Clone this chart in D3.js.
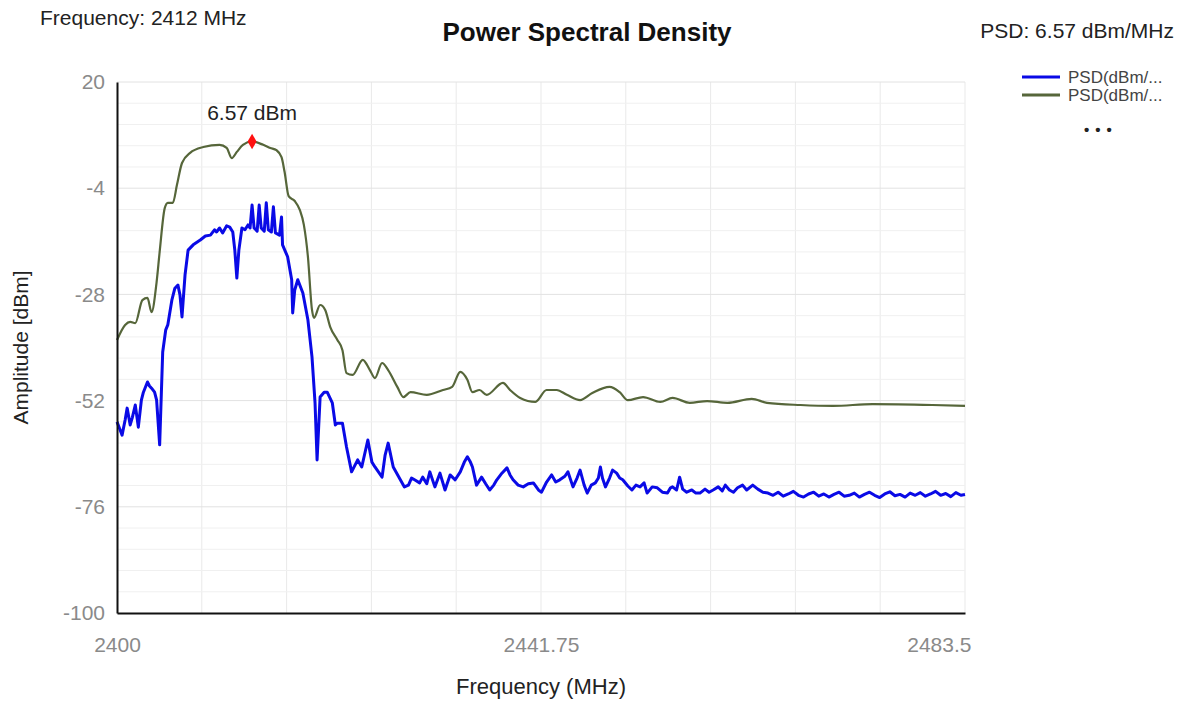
<!DOCTYPE html>
<html>
<head>
<meta charset="utf-8">
<script src="https://cdn.jsdelivr.net/npm/d3@7/dist/d3.min.js"></script>
<style>
  body { margin: 0; background: #fff; }
  svg { display: block; font-family: "Liberation Sans", Arial, sans-serif; }
</style>
</head>
<body>
<svg id="chart" width="1188" height="701"></svg>
<script>
// Power spectral density trace, two PSD series.

const xTicks = [2400, 2441.75, 2483.5];
const yTicks = [20, -4, -28, -52, -76, -100];
const seriesNames = ["PSD(dBm/...", "PSD(dBm/..."];
const seriesColors = ["#0a0ae6", "#56663a"];

// series 1 (blue, noisy)
const blueFreq = [
  2400.0, 2400.3, 2400.5, 2400.8, 2401.0, 2401.3, 2401.5, 2401.8, 2402.1, 2402.4,
  2402.6, 2403.0, 2403.2, 2403.4, 2403.7, 2403.9, 2404.2, 2404.5, 2404.8, 2405.0,
  2405.4, 2405.7, 2406.0, 2406.2, 2406.4, 2406.7, 2407.0, 2407.5, 2408.2, 2408.7,
  2409.2, 2409.6, 2409.8, 2410.1, 2410.4, 2410.8, 2411.1, 2411.4, 2411.6, 2411.8,
  2412.0, 2412.3, 2412.6, 2412.9, 2413.1, 2413.3, 2413.5, 2413.8, 2414.0, 2414.2,
  2414.5, 2414.7, 2414.9, 2415.2, 2415.4, 2415.6, 2416.0, 2416.2, 2416.3, 2416.8,
  2417.2, 2417.3, 2417.5, 2417.8, 2418.3, 2418.8, 2419.2, 2419.5, 2419.7, 2420.0,
  2420.4, 2420.7, 2421.2, 2421.5, 2421.7, 2422.2, 2422.6, 2423.1, 2423.7, 2424.1,
  2424.7, 2425.1, 2425.4, 2426.1, 2426.4, 2426.7, 2427.2, 2427.9, 2428.3, 2428.7,
  2429.0, 2429.3, 2429.8, 2430.1, 2430.5, 2430.8, 2431.3, 2431.8, 2432.3, 2432.8,
  2433.3, 2433.8, 2434.2, 2434.5, 2434.8, 2435.0, 2435.4, 2435.9, 2436.3, 2436.7,
  2437.1, 2437.4, 2437.9, 2438.4, 2438.7, 2439.0, 2439.5, 2440.0, 2440.5, 2441.0,
  2441.5, 2441.8, 2442.3, 2442.8, 2443.2, 2443.6, 2444.1, 2444.4, 2444.9, 2445.3,
  2445.6, 2446.0, 2446.3, 2446.7, 2447.1, 2447.4, 2447.6, 2447.8, 2448.1, 2448.5,
  2448.8, 2449.2, 2449.5, 2449.8, 2450.3, 2450.7, 2451.1, 2451.5, 2451.9, 2452.2,
  2452.7, 2453.2, 2453.7, 2454.2, 2454.5, 2454.7, 2455.1, 2455.4, 2455.7, 2456.1,
  2456.6, 2457.0, 2457.4, 2457.9, 2458.3, 2458.7, 2459.2, 2459.6, 2459.9, 2460.3,
  2460.7, 2461.1, 2461.6, 2462.0, 2462.6, 2463.1, 2463.6, 2464.1, 2464.6, 2465.1,
  2465.6, 2466.1, 2466.6, 2467.1, 2467.6, 2468.1, 2468.6, 2469.1, 2469.6, 2470.1,
  2470.6, 2471.1, 2471.6, 2472.1, 2472.6, 2473.1, 2473.6, 2474.1, 2474.6, 2475.1,
  2475.6, 2476.1, 2476.6, 2477.1, 2477.6, 2478.1, 2478.6, 2479.1, 2479.6, 2480.1,
  2480.6, 2481.1, 2481.6, 2482.1, 2482.6, 2483.1, 2483.5
];
const bluePsd = [
  -56.8, -58.6, -59.8, -56.4, -53.7, -57.5, -55.9, -53.0, -58.0, -51.9,
  -50.1, -47.8, -48.7, -49.2, -50.1, -51.9, -62.0, -41.0, -36.0, -34.9,
  -29.3, -26.6, -25.9, -28.1, -33.1, -23.6, -18.0, -16.8, -15.7, -14.8,
  -14.6, -13.4, -13.9, -13.0, -14.1, -12.5, -12.8, -13.9, -18.0, -24.3,
  -18.0, -13.0, -13.4, -12.3, -13.0, -7.8, -13.0, -13.7, -7.8, -13.0,
  -13.7, -7.3, -13.4, -13.9, -8.2, -14.1, -14.6, -10.5, -16.8, -19.5,
  -24.7, -32.2, -27.0, -24.7, -27.7, -33.8, -42.1, -52.5, -65.4, -51.2,
  -50.1, -50.1, -52.5, -57.5, -57.1, -57.1, -62.5, -68.1, -65.4, -67.0,
  -60.9, -65.9, -67.0, -69.3, -64.3, -61.6, -67.0, -69.9, -71.5, -71.1,
  -69.5, -69.9, -70.6, -69.3, -70.8, -68.1, -71.5, -68.4, -72.2, -68.8,
  -69.9, -68.1, -65.9, -64.7, -65.9, -67.0, -71.1, -69.3, -70.8, -72.2,
  -71.1, -69.9, -68.4, -67.2, -68.8, -69.9, -71.1, -71.5, -70.8, -70.6,
  -72.2, -72.7, -70.4, -68.8, -70.4, -69.9, -69.1, -68.1, -71.5, -69.5,
  -67.7, -71.1, -72.9, -71.1, -70.6, -69.5, -67.0, -69.5, -71.5, -69.5,
  -67.7, -68.4, -69.5, -69.9, -71.3, -72.2, -71.1, -71.5, -70.6, -72.9,
  -71.5, -71.7, -72.7, -72.9, -71.7, -71.5, -72.2, -69.3, -72.0, -72.7,
  -72.2, -72.9, -72.9, -72.0, -72.7, -72.2, -71.5, -72.4, -71.1, -72.2,
  -72.7, -71.7, -71.1, -72.2, -71.1, -72.0, -72.7, -72.9, -73.4, -72.7,
  -73.6, -73.1, -72.5, -73.4, -73.8, -73.1, -72.7, -73.6, -73.1, -73.8,
  -73.2, -72.7, -73.6, -73.4, -72.9, -73.8, -73.2, -72.7, -73.4, -73.9,
  -73.1, -72.6, -73.5, -73.2, -73.8, -72.9, -73.4, -72.8, -73.6, -73.1,
  -72.5, -73.4, -73.0, -73.7, -72.8, -73.4, -73.2
];

// series 2 (olive, smooth)
const greenFreq = [
  2400.0, 2400.8, 2401.3, 2401.8, 2402.5, 2403.0, 2403.4, 2403.9, 2404.2, 2404.7,
  2405.0, 2405.5, 2405.9, 2406.4, 2407.2, 2408.5, 2410.1, 2410.8, 2411.3, 2411.8,
  2412.4, 2413.3, 2414.4, 2415.1, 2415.7, 2416.2, 2416.5, 2416.9, 2417.5, 2418.0,
  2418.4, 2418.8, 2419.2, 2419.4, 2420.0, 2420.5, 2421.0, 2421.7, 2422.2, 2422.6,
  2423.2, 2424.2, 2424.9, 2425.4, 2426.1, 2426.7, 2427.6, 2428.2, 2428.9, 2430.5,
  2432.1, 2433.0, 2433.8, 2434.5, 2435.0, 2435.7, 2436.4, 2438.0, 2438.7, 2439.7,
  2441.2, 2442.3, 2443.3, 2444.3, 2445.6, 2446.8, 2448.5, 2449.5, 2450.3, 2451.8,
  2453.5, 2454.7, 2456.4, 2458.1, 2460.1, 2462.5, 2464.0, 2467.3, 2470.5, 2474.4,
  2480.3, 2483.5
];
const greenPsd = [
  -38.3, -34.9, -34.2, -34.5, -29.3, -28.8, -32.0, -25.2, -18.4, -8.5,
  -7.3, -7.3, -3.3, 1.7, 4.0, 5.3, 5.8, 5.1, 2.8, 4.2,
  5.8, 6.57, 5.8, 5.1, 4.6, 3.0, -0.3, -5.8, -6.9, -8.9,
  -12.3, -19.5, -31.5, -33.3, -30.4, -31.5, -35.4, -38.3, -40.6, -45.8,
  -46.2, -42.8, -45.1, -46.9, -43.5, -45.1, -48.9, -51.2, -50.1, -50.7,
  -49.6, -48.9, -45.5, -47.3, -50.1, -49.6, -50.7, -48.0, -49.6, -51.4,
  -52.3, -49.6, -49.6, -50.7, -51.9, -50.3, -48.9, -50.1, -51.9, -51.2,
  -52.3, -51.4, -52.5, -52.1, -52.5, -51.6, -52.5, -53.0, -53.2, -52.8,
  -53.0, -53.2
];

// peak marker read from the header readout
const peakFreq = 2413.3;
const peakPsd = 6.57;

const svg = d3.select("#chart");
const m = { left: 117, right: 965, top: 82, bottom: 613 };

const x = d3.scaleLinear().domain([2400, 2483.5]).range([m.left, m.right]);
const y = d3.scaleLinear().domain([-100, 20]).range([m.bottom, m.top]);

// grid: 10 columns, 25 rows (minor lines every 4.8 dB)
const gGrid = svg.append("g").attr("class", "grid");
gGrid.selectAll("line.v")
  .data(d3.range(1, 11).map((i) => 2400 + i * (83.5 / 10)))
  .enter().append("line")
  .attr("x1", (d) => x(d)).attr("x2", (d) => x(d))
  .attr("y1", m.top).attr("y2", m.bottom)
  .attr("stroke", "#e9e9e9").attr("stroke-width", 1);
gGrid.selectAll("line.h")
  .data(d3.range(1, 26).map((i) => -100 + i * 4.8))
  .enter().append("line")
  .attr("x1", m.left).attr("x2", m.right)
  .attr("y1", (d) => y(d)).attr("y2", (d) => y(d))
  .attr("stroke", (d, i) => ((i + 1) % 5 === 0 ? "#e2e2e2" : "#f0f0f0"))
  .attr("stroke-width", 1);

// traces
const blue = d3.zip(blueFreq, bluePsd);
const green = d3.zip(greenFreq, greenPsd);

svg.append("path").datum(blue)
  .attr("d", d3.line().x((d) => x(d[0])).y((d) => y(d[1])))
  .attr("fill", "none")
  .attr("stroke", seriesColors[0]).attr("stroke-width", 3)
  .attr("stroke-linejoin", "round");
svg.append("path").datum(green)
  .attr("d", d3.line().curve(d3.curveMonotoneX).x((d) => x(d[0])).y((d) => y(d[1])))
  .attr("fill", "none")
  .attr("stroke", seriesColors[1]).attr("stroke-width", 2.2)
  .attr("stroke-linejoin", "round");

// axes
const axL = svg.append("g").attr("transform", `translate(${m.left},0)`)
  .call(d3.axisLeft(y).tickValues(yTicks).tickSize(0).tickPadding(12)
    .tickFormat((d) => String(d)));
const axB = svg.append("g").attr("transform", `translate(0,${m.bottom})`)
  .call(d3.axisBottom(x).tickValues(xTicks).tickSize(0).tickPadding(24)
    .tickFormat((d) => String(d)));
[axL, axB].forEach((g) => {
  g.select(".domain").attr("stroke", "#111").attr("stroke-width", 2);
  g.selectAll("text")
    .attr("fill", "#8a8a8a")
    .attr("font-size", 21)
    .attr("font-family", "Liberation Sans, Arial, sans-serif");
});
// last x label sits inside the plot edge, as in the capture
axB.selectAll(".tick text").filter((d) => d === 2483.5)
  .attr("text-anchor", "end").attr("dx", 6);

// peak marker
svg.append("path")
  .attr("d", d3.symbol(d3.symbolDiamond, 70)())
  .attr("transform", `translate(${x(peakFreq)},${y(peakPsd)})`)
  .attr("fill", "#ff1010");
svg.append("text")
  .attr("x", x(peakFreq)).attr("y", y(peakPsd) - 21)
  .attr("text-anchor", "middle").attr("font-size", 21).attr("fill", "#222")
  .text(`${peakPsd} dBm`);

// titles and readouts
svg.append("text").attr("x", 587).attr("y", 41)
  .attr("text-anchor", "middle").attr("font-size", 26).attr("font-weight", "bold")
  .attr("fill", "#111").text("Power Spectral Density");
svg.append("text").attr("x", 40).attr("y", 25)
  .attr("font-size", 21).attr("fill", "#222").text(`Frequency: 2412 MHz`);
svg.append("text").attr("x", 1174).attr("y", 38)
  .attr("text-anchor", "end").attr("font-size", 21).attr("fill", "#222")
  .text(`PSD: ${peakPsd} dBm/MHz`);

svg.append("text").attr("x", x(2441.75)).attr("y", 694)
  .attr("text-anchor", "middle").attr("font-size", 22).attr("fill", "#222")
  .text("Frequency (MHz)");
svg.append("text")
  .attr("transform", `translate(28,${(m.top + m.bottom) / 2}) rotate(-90)`)
  .attr("text-anchor", "middle").attr("font-size", 21).attr("fill", "#222")
  .text("Amplitude [dBm]");

// legend
const leg = svg.append("g").attr("transform", "translate(1022,77)");
seriesNames.forEach((name, i) => {
  const r = leg.append("g").attr("transform", `translate(0,${i * 18})`);
  r.append("line").attr("x1", 0).attr("x2", 38).attr("y1", 0).attr("y2", 0)
    .attr("stroke", seriesColors[i]).attr("stroke-width", 3);
  r.append("text").attr("x", 46).attr("y", 6)
    .attr("font-size", 17).attr("fill", "#444").text(name);
});
leg.append("text").attr("x", 62).attr("y", 58)
  .attr("font-size", 15).attr("fill", "#222").attr("font-weight", "bold")
  .attr("letter-spacing", 6).text("•••");
</script>
</body>
</html>
